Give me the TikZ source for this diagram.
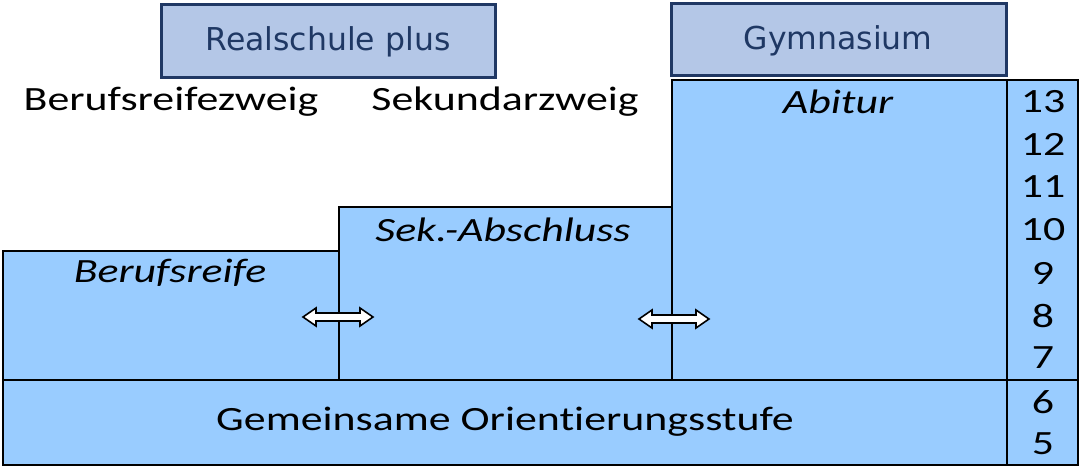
\documentclass[tikz,border=0pt]{standalone}
\usepackage{fontspec}
\setmainfont{Carlito}
\newfontfamily\bodyfont[FakeStretch=1.29,Ligatures={NoCommon}]{Carlito}
\newfontfamily\headfont{DejaVu Sans}
\definecolor{boxblue}{HTML}{99CCFF}
\definecolor{headfill}{HTML}{B4C7E7}
\definecolor{headline}{HTML}{203864}
\definecolor{headtext}{HTML}{1F3864}
\begin{document}
\begin{tikzpicture}[x=1pt,y=1pt,
  stage/.style={draw=black,line width=2.2pt,fill=boxblue},
  headbox/.style={draw=headline,line width=3pt,fill=headfill},
  headlabel/.style={font=\headfont\fontsize{31.5}{36}\selectfont,text=headtext,inner sep=0pt},
  body/.style={font=\bodyfont\fontsize{34}{40}\selectfont,text=black,inner sep=0pt},
  bodyit/.style={font=\bodyfont\itshape\fontsize{34}{40}\selectfont,text=black,inner sep=0pt},
  swap/.style={draw=black,line width=1.6pt,fill=white,line join=miter}]
\useasboundingbox (0,0) rectangle (1087,472);
% header boxes
\draw[headbox] (161,394) rectangle (495,467);
\node[headlabel] (rs) at (328,430) {Realschule plus};
\draw[headbox] (671,396) rectangle (1006,468);
\node[headlabel] (gy) at (838,431) {Gymnasium};
% stage boxes
\draw[stage] (3,92) rectangle (339,221);
\draw[stage] (339,92) rectangle (672,265);
\draw[stage] (672,92) rectangle (1007,392);
\draw[stage] (3,7) rectangle (1007,92);
\draw[stage] (1007,7) rectangle (1078,392);
\draw[black,line width=2.2pt] (1007,92) -- (1078,92);
% texts
\node[body] (bz) at (171,370) {Berufsreifezweig};
\node[body] (sz) at (505,370) {Sekundarzweig};
\node[bodyit] (ab) at (838,370) {Abitur};
\node[bodyit] (sa) at (503,242) {Sek.-Abschluss};
\node[bodyit] (br) at (170,199) {Berufsreife};
\node[body] (go) at (505,50) {Gemeinsame Orientierungsstufe};
% grade numbers
\foreach \n/\yy in {13/370,12/328,11/285,10/242,9/199,8/156,7/114,6/70,5/28}
  \node[body] (g\n) at (1043,\yy) {\n};
% double arrows
\foreach \cx/\cy/\nm in {338/155/a1,674/153/a2}{
  \coordinate (\nm) at (\cx,\cy);
  \draw[swap] ([shift={(-35,0)}]\nm) -- ++(13,9) -- ++(0,-5) -- ++(44,0) -- ++(0,5)
    -- ++(13,-9) -- ++(-13,-9) -- ++(0,5) -- ++(-44,0) -- ++(0,-5) -- cycle;
}
\end{tikzpicture}
\end{document}
